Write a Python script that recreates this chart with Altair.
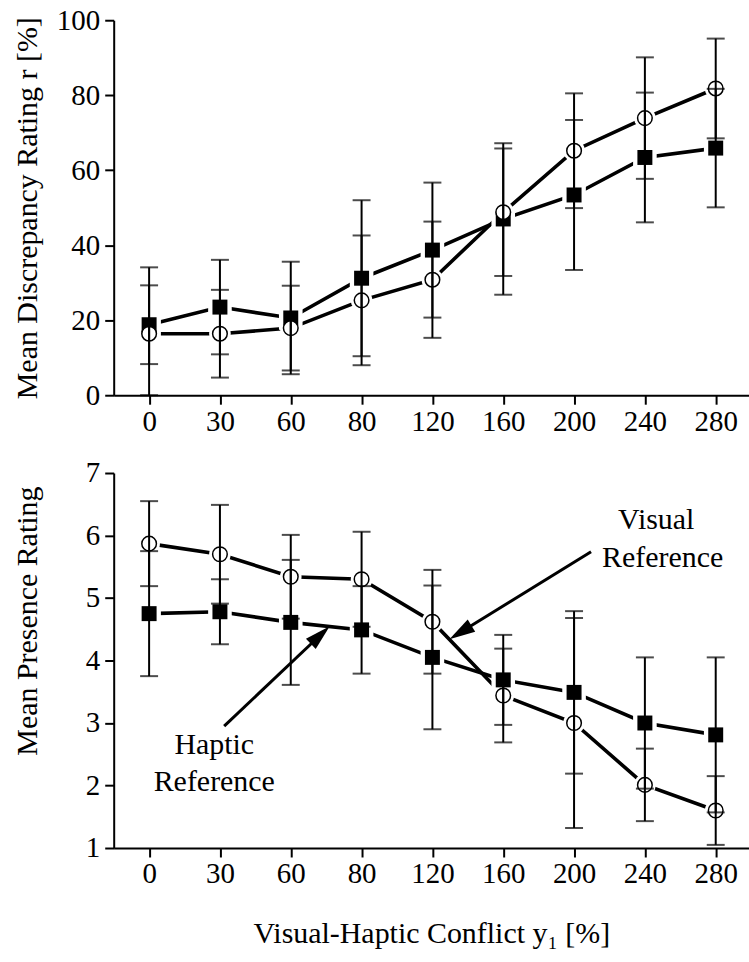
import altair as alt
import pandas as pd

# Conflict levels (x categories)
conflict_labels = ["0", "30", "60", "80", "120", "160", "200", "240", "280"]

# Mean discrepancy rating r [%] with error-bar half widths
disc_haptic = [18.8, 23.5, 20.6, 31.2, 38.7, 47.0, 53.4, 63.4, 65.9]
disc_haptic_err = [10.5, 12.6, 15.0, 20.8, 18.0, 20.2, 20.0, 17.3, 15.8]
disc_visual = [16.4, 16.4, 17.9, 25.3, 30.8, 48.8, 65.2, 73.9, 81.8]
disc_visual_err = [17.7, 11.7, 11.3, 17.3, 15.5, 17.0, 15.3, 16.2, 13.3]

# Mean presence rating with error-bar half widths
pres_haptic = [4.75, 4.78, 4.61, 4.49, 4.05, 3.69, 3.49, 3.00, 2.81]
pres_haptic_err = [1.00, 0.52, 1.00, 0.70, 1.15, 0.72, 1.30, 1.05, 1.24]
pres_visual = [5.87, 5.70, 5.34, 5.30, 4.62, 3.44, 3.00, 2.01, 1.60]
pres_visual_err = [0.68, 0.79, 0.67, 0.76, 0.83, 0.75, 1.68, 0.58, 0.55]

FONT = "Liberation Serif"
LABEL_FS = 29
TITLE_FS = 30


def make_frame(haptic, haptic_err, visual, visual_err):
    rows = []
    for name, means, errs in (("Haptic", haptic, haptic_err), ("Visual", visual, visual_err)):
        for i, (m, e) in enumerate(zip(means, errs)):
            rows.append({"i": i, "series": name, "mean": m, "lo": m - e, "hi": m + e})
    return pd.DataFrame(rows)


label_expr = "[" + ",".join("'%s'" % s for s in conflict_labels) + "][datum.value]"


def panel(df, ydomain, yticks, ytitle, ytitle_y, xtitle, annotations=None):
    xscale = alt.Scale(domain=[-0.5, 8.47], nice=False, zero=False)
    xaxis = alt.Axis(values=list(range(len(conflict_labels))), labelExpr=label_expr,
                     labelPadding=3, title=xtitle, titlePadding=30)
    yscale = alt.Scale(domain=ydomain, nice=False, zero=False, clamp=True)
    yaxis = alt.Axis(values=yticks, labelPadding=5, titleX=-77, titleY=ytitle_y,
                     titleAngle=270, titleBaseline="alphabetic", titleAlign="center")

    X = alt.X("i:Q", scale=xscale, axis=xaxis, title=xtitle)
    Ym = alt.Y("mean:Q", scale=yscale, axis=yaxis, title=ytitle)
    Ylo = alt.Y("lo:Q", scale=yscale, axis=yaxis, title=ytitle)

    base = alt.Chart(df)
    lines = base.mark_line(color="black", strokeWidth=3.6).encode(x=X, y=Ym, detail="series:N")
    hap = base.transform_filter(alt.datum.series == "Haptic")
    vis = base.transform_filter(alt.datum.series == "Visual")
    # white halos open a small gap between the connecting lines and the markers
    halo_sq = hap.mark_point(shape="square", filled=True, color="white", size=560, opacity=1).encode(x=X, y=Ym)
    halo_ci = vis.mark_point(shape="circle", filled=True, color="white", size=470, opacity=1).encode(x=X, y=Ym)
    squares = hap.mark_point(shape="square", filled=True, color="black", size=225, opacity=1).encode(x=X, y=Ym)
    circles = vis.mark_point(shape="circle", fill="white", stroke="black", strokeWidth=1.5,
                             size=215, opacity=1, filled=False).encode(x=X, y=Ym)
    bars = base.mark_rule(color="black", strokeWidth=2).encode(x=X, y=Ylo, y2="hi:Q")
    cap_lo = base.mark_tick(color="black", orient="horizontal", size=18, thickness=2).encode(x=X, y=Ylo)
    cap_hi = base.mark_tick(color="black", orient="horizontal", size=18, thickness=2).encode(
        x=X, y=alt.Y("hi:Q", scale=yscale, axis=yaxis, title=ytitle))

    layers = [lines, halo_sq, halo_ci, squares, circles, bars, cap_lo, cap_hi]

    if annotations is not None:
        texts, arrows = annotations
        tdf = pd.DataFrame(texts)
        adf = pd.DataFrame(arrows)
        layers.append(alt.Chart(tdf).mark_text(font=FONT, fontSize=TITLE_FS, align="center",
                                                 baseline="alphabetic", color="black").encode(
            x=alt.X("x:Q", scale=xscale, axis=xaxis, title=xtitle),
            y=alt.Y("y:Q", scale=yscale, axis=yaxis, title=ytitle),
            text="text:N"))
        layers.append(alt.Chart(adf).mark_rule(color="black", strokeWidth=3).encode(
            x=alt.X("x0:Q", scale=xscale, axis=xaxis, title=xtitle),
            y=alt.Y("y0:Q", scale=yscale, axis=yaxis, title=ytitle),
            x2="x1:Q", y2="y1:Q"))
        layers.append(alt.Chart(adf).mark_point(shape="M0,0L0.55,2L-0.55,2Z", filled=True,
                                                  color="black", size=676, opacity=1).encode(
            x=alt.X("xt:Q", scale=xscale, axis=xaxis, title=xtitle),
            y=alt.Y("yt:Q", scale=yscale, axis=yaxis, title=ytitle),
            angle=alt.Angle("angle:Q", scale=None)))

    return alt.layer(*layers).properties(width=637, height=376)


top_df = make_frame(disc_haptic, disc_haptic_err, disc_visual, disc_visual_err)
bottom_df = make_frame(pres_haptic, pres_haptic_err, pres_visual, pres_visual_err)

note_texts = [
    {"x": 0.92, "y": 2.505, "text": "Haptic"},
    {"x": 0.92, "y": 1.914, "text": "Reference"},
    {"x": 7.16, "y": 6.11, "text": "Visual"},
    {"x": 7.25, "y": 5.50, "text": "Reference"},
]
note_arrows = [
    {"x0": 1.06, "y0": 2.95, "x1": 2.43, "y1": 4.42, "xt": 2.55, "yt": 4.55, "angle": 46.7},
    {"x0": 6.24, "y0": 5.74, "x1": 4.38, "y1": 4.44, "xt": 4.24, "yt": 4.34, "angle": 238.2},
]

top = panel(top_df, [0, 100], [0, 20, 40, 60, 80, 100], "Mean Discrepancy Rating r [%]", 188, None)
bottom = panel(bottom_df, [1, 7], [1, 2, 3, 4, 5, 6, 7], "Mean Presence Rating", 148,
               "Visual-Haptic Conflict y\u2081 [%]", annotations=(note_texts, note_arrows))

chart = alt.vconcat(top, bottom, spacing=78, bounds="flush").properties(
    padding={"left": 12, "top": 5, "right": 0, "bottom": 5},
    background="white",
).configure_axis(
    labelFont=FONT, labelFontSize=LABEL_FS, titleFont=FONT, titleFontSize=TITLE_FS,
    titleFontWeight="normal",
    labelColor="black", titleColor="black", domainColor="black", tickColor="black",
    domainWidth=2, tickWidth=2, tickSize=9, grid=False, labelOverlap=False
).configure_view(stroke=None)

chart.save("out.html", embed_options={"renderer": "svg", "actions": False})
